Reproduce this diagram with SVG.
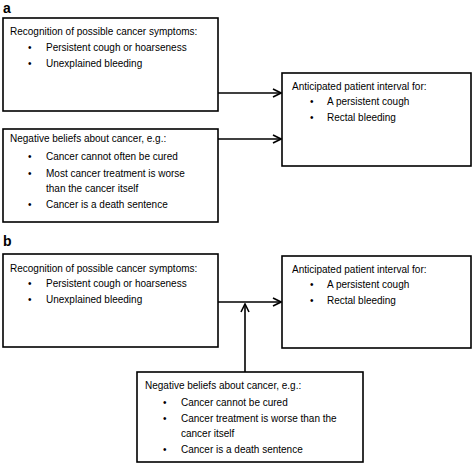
<svg xmlns="http://www.w3.org/2000/svg" width="473" height="466" viewBox="0 0 473 466">
<defs>
<style>
.box{fill:#fff;stroke:#000;stroke-width:1.6}
.t{font-family:"Liberation Sans",Arial,sans-serif;font-size:10px;fill:#000}
.lbl{font-family:"Liberation Sans",Arial,sans-serif;font-size:14px;font-weight:bold;fill:#000}
.c{fill:none;stroke:#000;stroke-width:1.6}
</style>
<marker id="arr" viewBox="0 0 10 10" refX="9" refY="5" markerWidth="10" markerHeight="10" markerUnits="userSpaceOnUse" orient="auto">
<path d="M1,1 L9,5 L1,9" fill="none" stroke="#000" stroke-width="1.6"/>
</marker>
</defs>
<rect width="473" height="466" fill="#fff"/>
<text class="lbl" x="3" y="13">a</text>
<text class="lbl" x="3" y="246">b</text>
<g id="a-recognition">
<rect class="box" x="3" y="18" width="215" height="93"/>
<text class="t" x="10" y="35">Recognition of possible cancer symptoms:</text>
<text class="t" x="28" y="51">•</text><text class="t" x="46" y="51">Persistent cough or hoarseness</text>
<text class="t" x="28" y="67">•</text><text class="t" x="46" y="67">Unexplained bleeding</text>
</g>
<g id="a-beliefs">
<rect class="box" x="3" y="129" width="215" height="93"/>
<text class="t" x="10" y="142">Negative beliefs about cancer, e.g.:</text>
<text class="t" x="28" y="160">•</text><text class="t" x="46" y="160">Cancer cannot often be cured</text>
<text class="t" x="28" y="177">•</text><text class="t" x="46" y="177">Most cancer treatment is worse</text>
<text class="t" x="46" y="192">than the cancer itself</text>
<text class="t" x="28" y="208">•</text><text class="t" x="46" y="208">Cancer is a death sentence</text>
</g>
<g id="a-interval">
<rect class="box" x="282" y="73" width="189" height="93"/>
<text class="t" x="292" y="90">Anticipated patient interval for:</text>
<text class="t" x="310" y="105">•</text><text class="t" x="327" y="105">A persistent cough</text>
<text class="t" x="310" y="121">•</text><text class="t" x="327" y="121">Rectal bleeding</text>
</g>
<g id="b-recognition">
<rect class="box" x="3" y="254" width="215" height="93"/>
<text class="t" x="10" y="272">Recognition of possible cancer symptoms:</text>
<text class="t" x="28" y="287">•</text><text class="t" x="46" y="287">Persistent cough or hoarseness</text>
<text class="t" x="28" y="303">•</text><text class="t" x="46" y="303">Unexplained bleeding</text>
</g>
<g id="b-interval">
<rect class="box" x="282" y="256" width="189" height="92"/>
<text class="t" x="292" y="273">Anticipated patient interval for:</text>
<text class="t" x="310" y="288">•</text><text class="t" x="327" y="288">A persistent cough</text>
<text class="t" x="310" y="304">•</text><text class="t" x="327" y="304">Rectal bleeding</text>
</g>
<g id="b-beliefs">
<rect class="box" x="137" y="372" width="226" height="90"/>
<text class="t" x="145" y="389">Negative beliefs about cancer, e.g.:</text>
<text class="t" x="163" y="406">•</text><text class="t" x="181" y="406">Cancer cannot be cured</text>
<text class="t" x="163" y="422">•</text><text class="t" x="181" y="422">Cancer treatment is worse than the</text>
<text class="t" x="181" y="437">cancer itself</text>
<text class="t" x="163" y="453">•</text><text class="t" x="181" y="453">Cancer is a death sentence</text>
</g>
<g id="connectors">
<line class="c" x1="218" y1="93" x2="281" y2="93" marker-end="url(#arr)"/>
<line class="c" x1="218" y1="139" x2="281" y2="139" marker-end="url(#arr)"/>
<line class="c" x1="218" y1="302" x2="281" y2="302" marker-end="url(#arr)"/>
<line class="c" x1="245" y1="372" x2="245" y2="304" marker-end="url(#arr)"/>
</g>
</svg>
